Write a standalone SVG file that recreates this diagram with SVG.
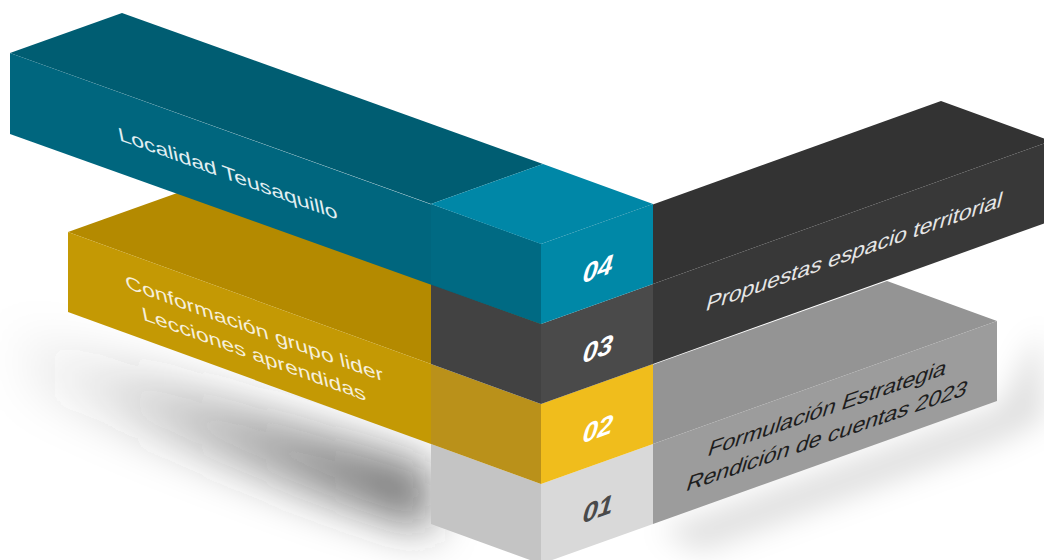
<svg xmlns="http://www.w3.org/2000/svg" width="1044" height="560" viewBox="0 0 1044 560">
<defs>
<filter id="blurL" filterUnits="userSpaceOnUse" x="-200" y="150" width="900" height="520"><feGaussianBlur stdDeviation="22"/></filter>
<filter id="blurS" filterUnits="userSpaceOnUse" x="560" y="250" width="600" height="400"><feGaussianBlur stdDeviation="14"/></filter>
<linearGradient id="shadowGrad" gradientUnits="userSpaceOnUse" x1="0" y1="0" x2="431" y2="0">
<stop offset="0" stop-color="#333" stop-opacity="0"/>
<stop offset="0.25" stop-color="#333" stop-opacity="0.12"/>
<stop offset="0.6" stop-color="#333" stop-opacity="0.4"/>
<stop offset="1" stop-color="#333" stop-opacity="0.7"/>
</linearGradient>
</defs>
<style>
.lbl{font-family:"Liberation Sans",Arial,sans-serif;text-anchor:middle}
.num{font-family:"Liberation Sans",Arial,sans-serif;font-weight:bold;font-style:italic;font-size:27px;text-anchor:middle}
</style>
<rect width="1044" height="560" fill="#ffffff"/>
<g id="shadows">
<polygon points="0,320 431,468 431,532 320,498 20,392" fill="url(#shadowGrad)" filter="url(#blurL)"/>
<polygon points="660,530 1000,406 1040,330 1044,420 1000,442 700,552" fill="#000" fill-opacity="0.12" filter="url(#blurS)"/>
</g>
<g id="node-01">
<polygon points="543,404 887,281 997,321 653,444" fill="#949494"/>
<polygon points="653,444 997,321 997,401 653,524" fill="#9c9c9c"/>
<polygon points="431,444 541,484 541,564 431,524" fill="#c4c4c4"/>
<polygon points="541,484 653,444 653,524 541,564" fill="#d9d9d9"/>
<text class="lbl" font-size="22.5" fill="#1e1e1e" transform="matrix(1.029,-0.355,-0.3,1,825.5,415.6)">Formulación Estrategia</text>
<text class="lbl" font-size="22.5" fill="#1e1e1e" transform="matrix(1.027,-0.355,-0.3,1,825,443.4)">Rendición de cuentas 2023</text>
<text class="num" fill="#4a4a4a" transform="matrix(1,-0.36,-0.1,1,597,518)">01</text>
</g>
<g id="node-02">
<polygon points="68,232 180,192 543,324 431,364" fill="#b48a00"/>
<polygon points="68,232 431,364 431,444 68,312" fill="#c49904"/>
<polygon points="431,364 541,404 541,484 431,444" fill="#ba911a"/>
<polygon points="541,404 653,364 653,444 541,484" fill="#f0bd1c"/>
<text class="lbl" font-size="19" fill="#f6efda" transform="matrix(1.21,0.44,0.2,1,255.5,335)">Conformación grupo lider</text>
<text class="lbl" font-size="19" fill="#f6efda" transform="matrix(1.21,0.44,0.2,1,255,360.5)">Lecciones aprendidas</text>
<text class="num" fill="#ffffff" transform="matrix(1,-0.36,-0.1,1,597,438)">02</text>
</g>
<g id="node-03">
<polygon points="543,244 941,101 1051,141 653,284" fill="#333333"/>
<polygon points="653,284 1051,141 1051,221 653,364" fill="#383838"/>
<polygon points="431,284 541,324 541,404 431,364" fill="#424242"/>
<polygon points="541,324 653,284 653,364 541,404" fill="#4a4a4a"/>
<text class="lbl" font-size="22" fill="#e6e6e6" transform="matrix(1.039,-0.368,-0.25,1,852.7,259)">Propuestas espacio territorial</text>
<text class="num" fill="#ffffff" transform="matrix(1,-0.36,-0.1,1,597,358)">03</text>
</g>
<g id="node-04">
<polygon points="10,53 122,13 543,164 431,204" fill="#005d72"/>
<polygon points="10,53 541,244 541,324 10,134" fill="#00667e"/>
<polygon points="431,204 541,244 541,324 431,284" fill="#006a83"/>
<polygon points="431,204 543,164 653,204 541,244" fill="#0087a7"/>
<polygon points="541,244 653,204 653,284 541,324" fill="#0088a7"/>
<text class="lbl" font-size="19" fill="#e2eff2" transform="matrix(1.21,0.44,0.2,1,229,180)">Localidad Teusaquillo</text>
<text class="num" fill="#ffffff" transform="matrix(1,-0.36,-0.1,1,597,278)">04</text>
</g>
<g id="connectors"/>
</svg>
